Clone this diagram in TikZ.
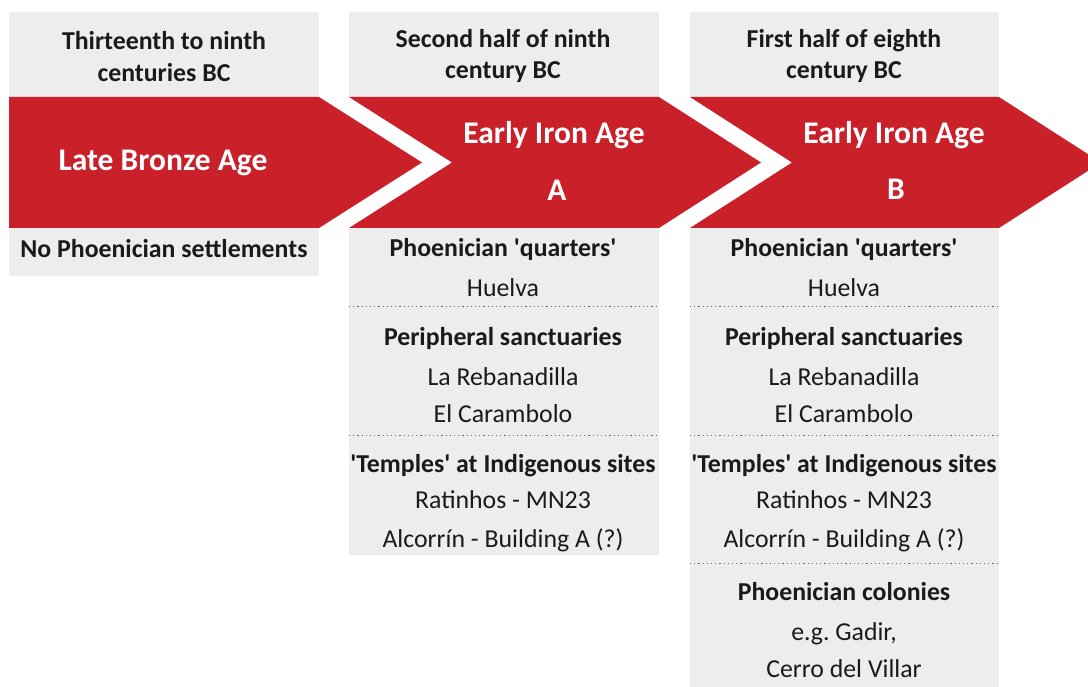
\documentclass[tikz,border=0pt]{standalone}
\usepackage{fontspec}
\setmainfont{Carlito}
\definecolor{arrowred}{HTML}{C9202A}
\definecolor{panelgray}{HTML}{EDEDED}
\definecolor{ink}{HTML}{1A1A1A}
\definecolor{dotgray}{HTML}{6A6A6A}
\newcommand{\sq}{\textquotesingle}
\frenchspacing
\begin{document}
\begin{tikzpicture}[x=1pt,y=-1pt,
  panel/.style={fill=panelgray},
  chevron/.style={fill=arrowred},
  hdr/.style={font=\bfseries\fontsize{25.8}{31}\selectfont, text=ink, inner sep=0pt, anchor=base},
  bigw/.style={font=\bfseries\fontsize{31.5}{34}\selectfont, text=white, inner sep=0pt, anchor=base},
  bhead/.style={font=\bfseries\fontsize{25.8}{28}\selectfont, text=ink, inner sep=0pt, anchor=base},
  item/.style={font=\fontsize{25.8}{28}\selectfont, text=ink, inner sep=0pt, anchor=base},
  sep/.style={draw=dotgray, line width=1pt, dash pattern=on 1.2pt off 3pt}
]
\useasboundingbox (0,0) rectangle (1088,687);
\fill[white] (0,0) rectangle (1088,687);
% panels
\fill[panel] (9,12) rectangle (319,97);
\fill[panel] (9,228) rectangle (319,276);
\fill[panel] (349,12) rectangle (659,97);
\fill[panel] (349,228) rectangle (659,555);
\fill[panel] (690,12) rectangle (999,97);
\fill[panel] (690,228) rectangle (999,687);
% chevrons
\fill[chevron] (9,97) -- (319,97) -- (422,162.5) -- (319,228) -- (9,228) -- cycle;
\fill[chevron] (349,97) -- (659,97) -- (761,162.5) -- (659,228) -- (349,228) -- (452,162.5) -- cycle;
\fill[chevron] (690,97) -- (999,97) -- (1101,162.5) -- (999,228) -- (690,228) -- (792,162.5) -- cycle;
% dotted separators
\draw[sep] (349,307) -- (659,307);
\draw[sep] (349,435) -- (659,435);
\draw[sep] (690,307) -- (999,307);
\draw[sep] (690,435) -- (999,435);
\draw[sep] (690,563) -- (999,563);
% column 1
\node[hdr] (h1a) at (164,50) {Thirteenth to ninth};
\node[hdr] (h1b) at (164,82) {centuries BC};
\node[bigw] (t1) at (163,171) {Late Bronze Age};
\node[bhead] (n1) at (164,258) {No Phoenician settlements};
% column 2
\node[hdr] (h2a) at (503,48) {Second half of ninth};
\node[hdr] (h2b) at (503,79) {century BC};
\node[bigw] (t2a) at (554,144) {Early Iron Age};
\node[bigw] (t2b) at (557,200.5) {A};
\node[bhead] (q2) at (503,257) {Phoenician \sq quarters\sq};
\node[item] (q2a) at (503,297) {Huelva};
\node[bhead] (s2) at (503,345) {Peripheral sanctuaries};
\node[item] (s2a) at (503,385) {La Rebanadilla};
\node[item] (s2b) at (503,422.5) {El Carambolo};
\node[bhead] (p2) at (503,472) {\sq Temples\sq{} at Indigenous sites};
\node[item] (p2a) at (503,508) {Ratinhos - MN23};
\node[item] (p2b) at (503,547) {Alcorrín - Building A (?)};
% column 3
\node[hdr] (h3a) at (844,48) {First half of eighth};
\node[hdr] (h3b) at (844,79) {century BC};
\node[bigw] (t3a) at (894,144) {Early Iron Age};
\node[bigw] (t3b) at (896,199.5) {B};
\node[bhead] (q3) at (844,257) {Phoenician \sq quarters\sq};
\node[item] (q3a) at (844,297) {Huelva};
\node[bhead] (s3) at (844,345) {Peripheral sanctuaries};
\node[item] (s3a) at (844,385) {La Rebanadilla};
\node[item] (s3b) at (844,422.5) {El Carambolo};
\node[bhead] (p3) at (844,472) {\sq Temples\sq{} at Indigenous sites};
\node[item] (p3a) at (844,508) {Ratinhos - MN23};
\node[item] (p3b) at (844,547) {Alcorrín - Building A (?)};
\node[bhead] (c3) at (844,600) {Phoenician colonies};
\node[item] (c3a) at (844,640) {e.g. Gadir,};
\node[item] (c3b) at (844,677) {Cerro del Villar};
\end{tikzpicture}
\end{document}
